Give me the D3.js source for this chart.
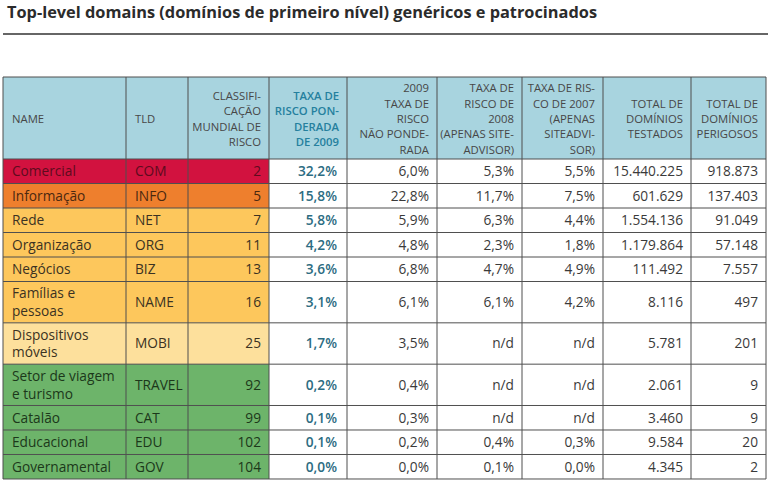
<!DOCTYPE html>
<html><head><meta charset="utf-8">
<script src="https://cdn.jsdelivr.net/npm/d3@7"></script>
<style>body{margin:0;background:#fff}svg{display:block}</style>
</head><body>
<script>
const titleText = "Top-level domains (domínios de primeiro nível) genéricos e patrocinados";
const headers = [
  ["NAME"],
  ["TLD"],
  ["CLASSIFI-","CAÇÃO","MUNDIAL DE","RISCO"],
  ["TAXA DE","RISCO PON-","DERADA","DE 2009"],
  ["2009","TAXA DE","RISCO","NÃO PONDE-","RADA"],
  ["TAXA DE","RISCO DE","2008","(APENAS SITE-","ADVISOR)"],
  ["TAXA DE RIS-","CO DE 2007","(APENAS","SITEADVI-","SOR)"],
  ["TOTAL DE","DOMÍNIOS","TESTADOS"],
  ["TOTAL DE","DOMÍNIOS","PERIGOSOS"]
];
const names = [["Comercial"],["Informação"],["Rede"],["Organização"],["Negócios"],["Famílias e","pessoas"],["Dispositivos","móveis"],["Setor de viagem","e turismo"],["Catalão"],["Educacional"],["Governamental"]];
const tlds = ["COM","INFO","NET","ORG","BIZ","NAME","MOBI","TRAVEL","CAT","EDU","GOV"];
const ranks = [2,5,7,11,13,16,25,92,99,102,104];
const weighted2009 = [32.2,15.8,5.8,4.2,3.6,3.1,1.7,0.2,0.1,0.1,0.0];
const unweighted2009 = [6.0,22.8,5.9,4.8,6.8,6.1,3.5,0.4,0.3,0.2,0.0];
const rate2008 = [5.3,11.7,6.3,2.3,4.7,6.1,null,null,null,0.4,0.1];
const rate2007 = [5.5,7.5,4.4,1.8,4.9,4.2,null,null,null,0.3,0.0];
const tested = [15440225,601629,1554136,1179864,111492,8116,5781,2061,3460,9584,4345];
const dangerous = [918873,137403,91049,57148,7557,497,201,9,9,20,2];
const riskLevel = ["vermelho","laranja","amarelo","amarelo","amarelo","amarelo","claro","verde","verde","verde","verde"];

const fills = {vermelho:"#d2123f", laranja:"#ee7f2d", amarelo:"#fdc75c", claro:"#fde09c", verde:"#6db46a"};
const inks = {vermelho:"#5e0b1e", laranja:"#4a2810", amarelo:"#3b3222", claro:"#3b3222", verde:"#1c381a"};

const W = 768, H = 483;
const svg = d3.select("body").append("svg").attr("width", W).attr("height", H);
const FONT = "'Open Sans', 'DejaVu Sans', sans-serif";

const loc = d3.formatLocale({decimal:",", thousands:".", grouping:[3], currency:["R$",""]});
const fInt = loc.format(",d");
const fPct = v => v == null ? "n/d" : loc.format(".1f")(v) + "%";

// title
const t = svg.append("text").attr("x", 7).attr("y", 18)
  .attr("font-family", FONT).attr("font-weight", 700).attr("font-size", 16)
  .attr("fill", "#2b2b2b").text(titleText);
t.attr("textLength", 590).attr("lengthAdjust", "spacingAndGlyphs");
svg.append("line").attr("x1", 3).attr("x2", W).attr("y1", 34).attr("y2", 34)
  .attr("stroke", "#333").attr("stroke-width", 1.5);

// columns
const colEdges = [3,126,188,269,347,437,522,603,691,766];
const nCols = headers.length;
const align = ["start","start","end","end","end","end","end","end","end"];
const headTop = 77, headBot = 159;

// row heights from line counts
const rowIdx = d3.range(names.length);
const rowH = rowIdx.map(i => names[i].length > 1 ? 41.33 : 24.5);
const rowY = [headBot, ...d3.cumsum(rowH).map(v => headBot + v)];
const y = i => rowY[i];

const cellText = (i, c) => {
  switch (c) {
    case 0: return names[i];
    case 1: return [tlds[i]];
    case 2: return [String(ranks[i])];
    case 3: return [fPct(weighted2009[i])];
    case 4: return [fPct(unweighted2009[i])];
    case 5: return [fPct(rate2008[i])];
    case 6: return [fPct(rate2007[i])];
    case 7: return [fInt(tested[i])];
    case 8: return [fInt(dangerous[i])];
  }
};

const g = svg.append("g");
// header background
g.append("rect").attr("x", colEdges[0]).attr("y", headTop)
  .attr("width", colEdges[nCols]-colEdges[0]).attr("height", headBot-headTop)
  .attr("fill", "#a8d4df");

// body fills
rowIdx.forEach(i => {
  g.append("rect").attr("x", colEdges[0]).attr("y", y(i))
    .attr("width", colEdges[3]-colEdges[0]).attr("height", rowH[i])
    .attr("fill", fills[riskLevel[i]]);
});

// header text
headers.forEach((lines, c) => {
  const x = align[c] === "start" ? colEdges[c] + 9 : colEdges[c+1] - 8;
  const lh = 15.4;
  const cy = (headTop + headBot) / 2 + 1;
  const tx = g.append("text").attr("font-family", FONT).attr("font-size", 11.3)
    .attr("font-weight", c === 3 ? 600 : 400)
    .attr("fill", c === 3 ? "#25809e" : "#474747").attr("text-anchor", align[c]);
  lines.forEach((s, k) => {
    tx.append("tspan").attr("x", x)
      .attr("y", cy + (k - (lines.length-1)/2) * lh + 4).text(s);
  });
});

// body text
rowIdx.forEach(i => {
  d3.range(nCols).forEach(c => {
    const lines = cellText(i, c);
    const x = align[c] === "start" ? colEdges[c] + 9 : colEdges[c+1] - (c === 3 ? 10 : 8);
    const cy = y(i) + rowH[i] / 2;
    const lh = 17.5;
    const color = c < 3 ? inks[riskLevel[i]] : (c === 3 ? "#2c6c82" : "#3a3a3a");
    const tx = g.append("text").attr("font-family", FONT).attr("font-size", 13.7)
      .attr("font-weight", c === 3 ? 600 : 400)
      .attr("fill", color).attr("text-anchor", align[c]);
    lines.forEach((s, k) => {
      tx.append("tspan").attr("x", x)
        .attr("y", cy + (k - (lines.length-1)/2) * lh + 5).text(s);
    });
  });
});

// grid lines
const gridColor = "#4f4f4f";
colEdges.forEach(x => {
  g.append("line").attr("x1", x).attr("x2", x).attr("y1", headTop).attr("y2", rowY[rowY.length-1])
    .attr("stroke", gridColor).attr("stroke-width", 1);
});
[headTop, ...rowY].forEach(yy => {
  g.append("line").attr("x1", colEdges[0]).attr("x2", colEdges[nCols]).attr("y1", yy).attr("y2", yy)
    .attr("stroke", gridColor).attr("stroke-width", 1);
});
</script>
</body></html>
